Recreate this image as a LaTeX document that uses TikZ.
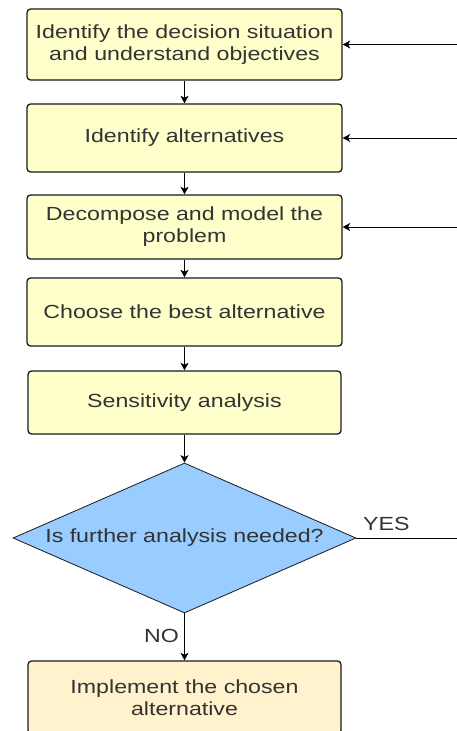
\documentclass[tikz,border=0pt]{standalone}
\usepackage{fontspec}
\setmainfont{Liberation Sans}[FakeStretch=1.22]
\usetikzlibrary{arrows.meta,shapes.geometric}
\definecolor{boxfill}{HTML}{FFFFCC}
\definecolor{endfill}{HTML}{FFF2CC}
\definecolor{decfill}{HTML}{99CCFF}
\definecolor{txt}{HTML}{333333}
\definecolor{edge}{HTML}{1A1A1A}
\tikzset{
  stepbox/.style={draw=edge, line width=1.3pt, rounded corners=3.5pt, fill=boxfill,
    minimum width=315pt, inner sep=0pt, align=center, text=txt,
    font=\fontsize{19}{22}\selectfont},
  decbox/.style={diamond, draw=edge, line width=0.8pt, fill=decfill,
    minimum width=343pt, minimum height=150pt, inner sep=0pt},
  lbl/.style={text=txt, font=\fontsize{19}{22}\selectfont, inner sep=0pt},
  flow/.style={draw=black, line width=0.9pt, -{Stealth[length=7.5pt,width=8pt,inset=2pt]}},
  plain/.style={draw=black, line width=0.9pt}
}
\begin{document}
\begin{tikzpicture}[x=1pt,y=-1pt]
\useasboundingbox (0,0) rectangle (457,731);
\node[stepbox, minimum height=71pt] (s1) at (184.5,44.5) {Identify the decision situation\\and understand objectives};
\node[stepbox, minimum height=68pt] (s2) at (184.5,138) {Identify alternatives};
\node[stepbox, minimum height=64pt] (s3) at (184.5,227) {Decompose and model the\\problem};
\node[stepbox, minimum height=68pt] (s4) at (184.5,312) {Choose the best alternative};
\node[stepbox, minimum height=63pt, minimum width=313pt] (s5) at (184.5,402.5) {Sensitivity analysis};
\node[decbox, label={[lbl]center:Is further analysis needed?}] (d) at (184.5,538) {};
\node[stepbox, fill=endfill, minimum height=73pt, minimum width=313pt] (s6) at (184.5,697.5) {Implement the chosen\\alternative};
\coordinate (r1) at (457,44.5);
\coordinate (r2) at (457,138);
\coordinate (r3) at (457,227);
\coordinate (r4) at (457,538);
\draw[flow] (s1) -- (s2);
\draw[flow] (s2) -- (s3);
\draw[flow] (s3) -- (s4);
\draw[flow] (s4) -- (s5);
\draw[flow] (s5) -- (d);
\draw[flow] (d) -- (s6);
\draw[flow] (r1) -- (s1.east);
\draw[flow] (r2) -- (s2.east);
\draw[flow] (r3) -- (s3.east);
\draw[plain] (d.east) -- (r4);
\node[lbl, anchor=base west] (yes) at (363,530) {YES};
\node[lbl, anchor=base east] (no) at (179,642) {NO};
\end{tikzpicture}
\end{document}
